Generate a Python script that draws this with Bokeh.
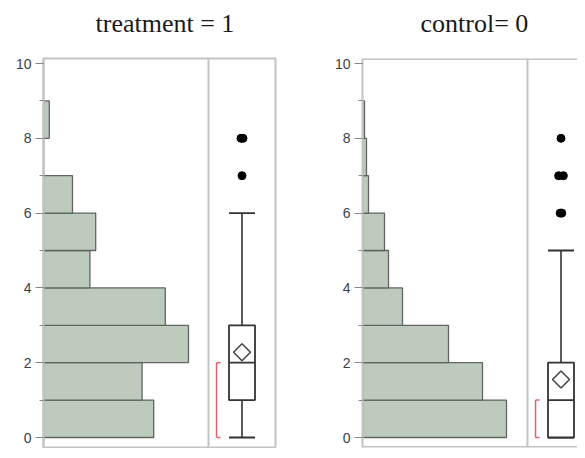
import math
from bokeh.plotting import figure
from bokeh.models import Range1d, SingleIntervalTicker, Title
from bokeh.layouts import row, column
from bokeh.embed import file_html
from bokeh.resources import INLINE

# ---------------- data ----------------
titles = ["treatment = 1", "control= 0"]
bin_lower = [0, 1, 2, 3, 4, 5, 6, 7, 8]
treatment_counts = [19, 17, 25, 21, 8, 9, 5, 0, 1]
control_counts = [72, 60, 43, 20, 13, 11, 3, 2, 1]

whisker_low = [0, 0]
quartile_1 = [1, 0]
median = [2, 1]
quartile_3 = [3, 2]
whisker_high = [6, 5]
means = [2.28, 1.55]
shortest_half_low = [0, 0]
shortest_half_high = [2, 1]
outlier_values = [[7, 8, 8], [6, 6, 7, 7, 8]]
outlier_jitter = [[0.0, -0.015, 0.015], [-0.012, 0.012, -0.035, 0.035, 0.0]]

# ---------------- layout / style ----------------
FRAME_GRAY = "#c4c4c4"
BAR_FILL = "#bccbbc"
BAR_LINE = "#5f665f"
BOX_LINE = "#333333"
RED = "#e8606c"
LABEL_COLOR = "#3d3d4a"

Y_START, Y_END = -0.267, 10.134
STRIP_H = 50
PANEL_H = 398
TOP = 8
BOTTOM = 1
HIST_PX = 165          # width of histogram part of frame
BOX_UNIT_PX = 67       # width of box part (left panel)
hist_span = [28.45, 82.5]   # count value at the divider line
frame_w = [232, 215]
border_left = [43, 82]
border_right = [5, 0]
title_offset = [95, 140]


def title_strip(i):
    w = border_left[i] + frame_w[i] + border_right[i]
    s = figure(width=w, height=STRIP_H, output_backend="svg", toolbar_location=None,
               x_axis_location=None, y_axis_location=None,
               x_range=Range1d(0, 1), y_range=Range1d(0, 1),
               min_border_left=0, min_border_right=0, min_border_top=0, min_border_bottom=0)
    s.outline_line_color = None
    s.grid.visible = False
    s.add_layout(Title(text=titles[i], align="left", offset=title_offset[i],
                       text_font="Liberation Serif", text_font_size="26px",
                       text_font_style="normal", text_color="#1a1a1a",
                       standoff=12), "above")
    return s


def panel(i, counts):
    fw = frame_w[i]
    p = figure(width=border_left[i] + fw + border_right[i], height=PANEL_H,
               output_backend="svg", toolbar_location=None,
               x_axis_location=None, y_axis_location="left",
               x_range=Range1d(0, hist_span[i] * fw / HIST_PX),
               y_range=Range1d(Y_START, Y_END),
               min_border_left=border_left[i], min_border_right=border_right[i],
               min_border_top=TOP, min_border_bottom=BOTTOM)
    p.extra_x_ranges = {"box": Range1d(-HIST_PX / BOX_UNIT_PX, (fw - HIST_PX) / BOX_UNIT_PX)}
    p.grid.visible = False
    p.background_fill_color = "white"
    p.border_fill_color = "white"

    ax = p.yaxis[0]
    ax.ticker = SingleIntervalTicker(interval=2, num_minor_ticks=2)
    ax.axis_line_color = FRAME_GRAY
    ax.axis_line_width = 2
    ax.major_tick_line_color = "#888888"
    ax.major_tick_out = 8
    ax.major_tick_in = 0
    ax.minor_tick_line_color = "#888888"
    ax.minor_tick_out = 4
    ax.minor_tick_in = 0
    ax.major_label_standoff = 4
    ax.major_label_text_font = "Liberation Sans"
    ax.major_label_text_font_size = "14px"
    ax.major_label_text_color = LABEL_COLOR

    if i == 0:
        p.outline_line_color = FRAME_GRAY
        p.outline_line_width = 2
    else:
        p.outline_line_color = None
        p.hspan(y=[Y_START, Y_END], line_color=FRAME_GRAY, line_width=3)

    # histogram
    centers = [b + 0.5 for b in bin_lower]
    p.hbar(y=centers, left=0, right=counts, height=1,
           fill_color=BAR_FILL, line_color=BAR_LINE, line_width=1.3)

    # divider between histogram and box plot
    p.vspan(x=[0], x_range_name="box", line_color=FRAME_GRAY, line_width=2)

    c = 0.5
    hw = 13 / BOX_UNIT_PX
    # whiskers
    p.segment(x0=[c, c], x1=[c, c], y0=[quartile_3[i], quartile_1[i]],
              y1=[whisker_high[i], whisker_low[i]],
              line_color=BOX_LINE, line_width=1.6, x_range_name="box")
    p.segment(x0=[c - hw, c - hw], x1=[c + hw, c + hw],
              y0=[whisker_high[i], whisker_low[i]], y1=[whisker_high[i], whisker_low[i]],
              line_color=BOX_LINE, line_width=1.8, x_range_name="box")
    # box
    p.quad(left=[c - hw], right=[c + hw], bottom=[quartile_1[i]], top=[quartile_3[i]],
           fill_color="white", line_color=BOX_LINE, line_width=1.8, x_range_name="box")
    p.segment(x0=[c - hw], x1=[c + hw], y0=[median[i]], y1=[median[i]],
              line_color=BOX_LINE, line_width=1.8, x_range_name="box")
    # mean diamond
    p.scatter(x=[c], y=[means[i]], marker="square", angle=math.pi / 4, size=12,
              fill_color="white", line_color="#444444", line_width=1.5, x_range_name="box")
    # outliers
    p.scatter(x=[c + j for j in outlier_jitter[i]], y=outlier_values[i], marker="circle",
              size=8, fill_color="black", line_color="black", x_range_name="box")
    # shortest half bracket
    bx = 0.12
    bt = 0.18
    p.segment(x0=[bx, bx, bx], x1=[bx, bt, bt],
              y0=[shortest_half_low[i], shortest_half_low[i], shortest_half_high[i]],
              y1=[shortest_half_high[i], shortest_half_low[i], shortest_half_high[i]],
              line_color=RED, line_width=1.5, x_range_name="box")
    return p


layout = column(row(title_strip(0), title_strip(1)),
                row(panel(0, treatment_counts), panel(1, control_counts)))

open("out.html", "w").write(file_html(layout, INLINE))
